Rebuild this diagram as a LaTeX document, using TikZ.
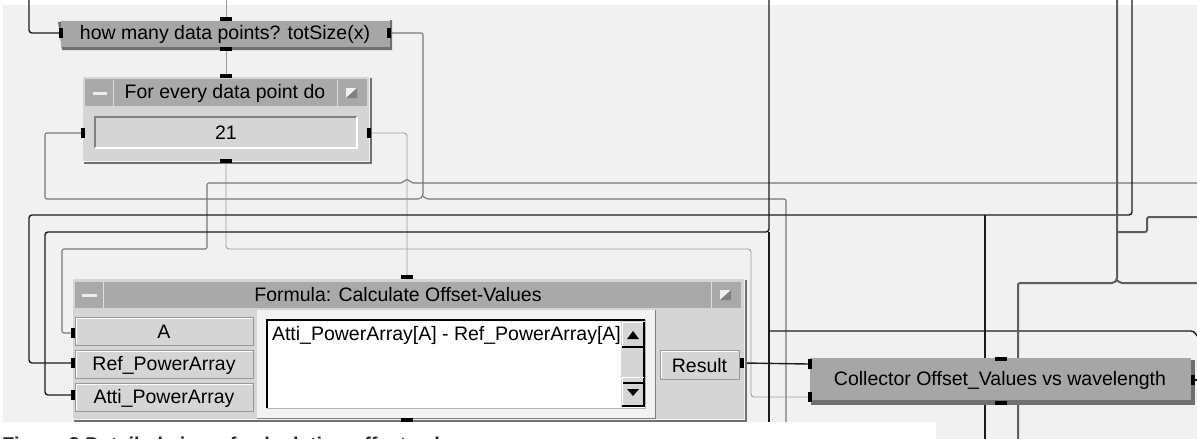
\documentclass[tikz,border=0pt]{standalone}
\usepackage{fontspec}
\setmainfont{Liberation Sans}
\usetikzlibrary{calc}
\definecolor{bgc}{HTML}{F1F1F1}
\definecolor{barc}{HTML}{A9A9A9}
\definecolor{panc}{HTML}{D5D5D5}
\definecolor{shd}{HTML}{707070}
\definecolor{nodeg}{HTML}{A6A6A6}
\definecolor{lnD}{HTML}{1C1C1C}
\definecolor{lnM}{HTML}{5E5E5E}
\definecolor{lnG}{HTML}{777777}
\definecolor{lnL}{HTML}{9C9C9C}
\begin{document}
\begin{tikzpicture}[x=1pt,y=-1pt,
  every node/.style={inner sep=0pt,outer sep=0pt},
  uifont/.style={font=\fontsize{19.5}{22}\selectfont},
  box/.style={anchor=north west},
  dk/.style={draw=lnD,line width=1.4pt,rounded corners=3pt},
  mdk/.style={draw=lnM,line width=2pt,rounded corners=2pt},
  gr/.style={draw=lnG,line width=1.1pt,rounded corners=2pt},
  lt/.style={draw=lnL,line width=0.9pt,rounded corners=3pt},
  pinh/.style={fill=black,minimum width=4pt,minimum height=10pt},
  pinv/.style={fill=black,minimum width=12pt,minimum height=4pt},
  ]
\useasboundingbox (0,0) rectangle (1197,439);
% background
\fill[white] (0,0) rectangle (1197,439);
\fill[bgc] (3,5) rectangle (1197,439);
\fill[white] (0,422) rectangle (936,439);

% free ends
\coordinate (e1) at (29,0);
\coordinate (e2) at (226,0);
\coordinate (e3) at (1197,183);
\coordinate (e4) at (1132,0);
\coordinate (e5) at (769,0);
\coordinate (e6) at (786,422);
\coordinate (e7) at (985,439);
\coordinate (e8) at (1117,0);
\coordinate (e9) at (1018,439);
\coordinate (e10) at (1197,217);
\coordinate (e11) at (1197,283);
\coordinate (e12) at (1197,336);
\coordinate (e13) at (769,422);
\coordinate (j1) at (423,196);
\coordinate (j2) at (1117,280);

% pins
\node[pinh] (tnL) at (61,33) {};
\node[pinh] (tnR) at (389,33) {};
\node[pinv] (tnT) at (226,19) {};
\node[pinv] (tnB) at (226,49) {};
\node[pinh] (lpL) at (83,133) {};
\node[pinh] (lpR) at (369,133) {};
\node[pinv] (lpT) at (226,76) {};
\node[pinv] (lpB) at (226,161) {};
\node[pinv] (fmT) at (407,277) {};
\node[pinv] (fmB) at (407,420) {};
\node[pinh] (fmA) at (73,333) {};
\node[pinh] (fmRef) at (73,363) {};
\node[pinh] (fmAtti) at (73,395) {};
\node[pinh] (fmRes) at (742,363) {};
\node[pinh] (clL1) at (810,364) {};
\node[pinh] (clL2) at (810,397) {};
\node[pinh] (clR) at (1193,380) {};
\node[pinv] (clT) at (1001,359) {};
\node[pinv] (clB) at (1001,403) {};

% connectors
\draw[lt] (e2) -- (tnT.north);
\draw[dk] (e1) |- (tnL.west);
\draw[lt] (tnB.south) -- (lpT.north);
\draw[gr] (tnR.east) -- (423,33) -- (j1) -- (420,199) -- (45,199) -- (45,133) -- (lpL.west);
\draw[gr] (j1) -- (426,199) -- (786,199) -- (e6);
\draw[lt] (lpR.east) -- (407,133) -- (fmT.north);
\draw[lt] (lpB.south) -- (226,249) -- (751,249) -- (751,397) -- (clL2.west);
\draw[gr] (fmA.west) -- (62,333) -- (62,249) -- (207,249) -- (207,183) -- (403,183) -- (405,179.5) -- (409,179.5) -- (411,183) -- (e3);
\draw[dk] (fmRef.west) -- (29,363) -- (29,215) -- (1132,215) -- (e4);
\draw[dk] (985,215) -- (e7);
\draw[dk] (fmAtti.west) -- (45,395) -- (45,232) -- (769,232) -- (e5);
\draw[dk] (769,232) -- (e13);
\draw[dk] (769,331) -- (1194,331) -- (e12);
\draw[dk] (fmRes.east) -- (clL1.west);
\draw[mdk] (e8) -- (j2) -- (1114,283) -- (1018,283) -- (e9);
\draw[mdk] (j2) -- (1120,283) -- (e11);
\draw[mdk] (1117,232) -- (1147,232) -- (1147,217) -- (e10);
\draw[dk] (clR.east) -- (1197,380);

% ---- top node
\fill[shd] (58,22) -- (62,50) -- (392,50) -- (392,20) -- cycle;
\node[box,fill=nodeg,minimum width=329pt,minimum height=27pt] (tn) at (61,20) {};
\draw[white!85!gray,line width=0.8pt] (61,20.5) -- (390,20.5);
\node[uifont] (tnText) at (225,34) {how many data points? totSize(x)};

% ---- loop node
\fill[shd] (84,78) rectangle (372,164);
\node[box,fill=panc,draw=white!90!gray,line width=1pt,minimum width=287pt,minimum height=85pt] (lp) at (82,76) {};
\fill[barc] (85,79) rectangle (367,106);
\fill[barc] (87,81) rectangle (113,105);
\draw[white!75!gray,line width=0.8pt] (113.5,80) -- (113.5,106) (337.5,80) -- (337.5,106);
\fill[white!85!gray] (93,92) rectangle (107,95);
\node[uifont] (lpTitle) at (225,93) {For every data point do};
\fill[white!88!gray] (346,88) rectangle (357,98);
\fill[gray] (357,88) -- (357,98) -- (346,98) -- cycle;
\node[box,fill=panc,minimum width=262pt,minimum height=31pt] (lpField) at (95,117) {};
\draw[gray,line width=1.2pt] (95,148) -- (95,117) -- (357,117);
\draw[white,line width=1.2pt] (95,148) -- (357,148) -- (357,117);
\node[uifont] (lpVal) at (226,133) {21};

% ---- formula node
\fill[shd] (74,280) rectangle (747,422);
\node[box,fill=panc,draw=white!90!gray,line width=1pt,minimum width=672pt,minimum height=141pt] (fm) at (72,278) {};
\fill[barc] (75,282) rectangle (741,308);
\fill[barc] (76,283) rectangle (103,307);
\draw[white!75!gray,line width=0.8pt] (103.5,282) -- (103.5,308) (711.5,282) -- (711.5,308);
\fill[white!85!gray] (82,294) rectangle (97,297);
\node[uifont] (fmTitle) at (398,295) {Formula: Calculate Offset-Values};
\fill[white!88!gray] (720,290) rectangle (731,300);
\fill[gray] (731,290) -- (731,300) -- (720,300) -- cycle;
% input labels
\foreach \y/\t/\n in {317/A/lbA,350/Ref\_PowerArray/lbRef,383/Atti\_PowerArray/lbAtti}{
  \node[box,fill=panc,draw=gray!80,line width=0.8pt,minimum width=178pt,minimum height=28pt] (\n) at (75,\y) {};
  \draw[white,line width=1pt] (76,\y+27) -- (76,\y+1) -- (252,\y+1);
  \node[uifont] at ($(\n.center)+(0,1)$) {\t};
}
% text area
\fill[white!90!gray] (257,310) rectangle (655,418);
\draw[gray,line width=1pt] (257,418) -- (655,418) -- (655,310);
\node[box,fill=white,minimum width=378pt,minimum height=88pt] (fmExpr) at (267,320) {};
\draw[black,line width=1.6pt] (267,408) -- (267,320) -- (645,320);
\draw[gray!60,line width=1pt] (267,408) -- (645,408) -- (645,320);
\node[uifont,anchor=base west] (fmExprT) at (272,340) {Atti\_PowerArray[A] - Ref\_PowerArray[A]};
% scrollbar
\fill[panc] (621,321) rectangle (645,407);
\draw[white,line width=1pt] (622,346) -- (622,322) -- (644,322);
\draw[black,line width=1.4pt] (622,347) -- (644,347) -- (644,322);
\fill[black] (627,339) -- (639,339) -- (633,331) -- cycle;
\draw[black,line width=1.4pt] (622,383) -- (644,383) -- (644,348);
\draw[white,line width=1pt] (622,377) -- (644,377);
\draw[white,line width=1pt] (622,406) -- (622,378);
\draw[black,line width=1.4pt] (622,406) -- (644,406) -- (644,378);
\fill[black] (627,389) -- (639,389) -- (633,396) -- cycle;
% right panel
\fill[panc] (658,310) rectangle (740,418);
\node[box,fill=panc,draw=gray!80,line width=0.8pt,minimum width=79pt,minimum height=29pt] (lbRes) at (660,350) {};
\draw[white,line width=1pt] (661,378) -- (661,351) -- (738,351);
\node[uifont] at ($(lbRes.center)+(0,1)$) {Result};

% ---- collector
\fill[shd] (811,360) rectangle (1195,405);
\node[box,fill=nodeg,minimum width=381pt,minimum height=42pt] (cl) at (810,358) {};
\node[uifont] (clText) at (1000,380) {Collector Offset\_Values vs wavelength};

% re-draw pins on top
\foreach \p in {tnL,tnR,tnT,tnB,lpL,lpR,lpT,lpB,fmT,fmB,fmA,fmRef,fmAtti,fmRes,clL1,clL2,clR,clT,clB}{
  \fill[black] (\p.south west) rectangle (\p.north east);
}

% caption (cut by the page edge, as in the reference)
\node[anchor=base west,font=\fontsize{20}{22}\selectfont\bfseries,text=black!85] (cap) at (2,451) {Figure 3 Detailed view of calculation offset values};
\end{tikzpicture}
\end{document}
